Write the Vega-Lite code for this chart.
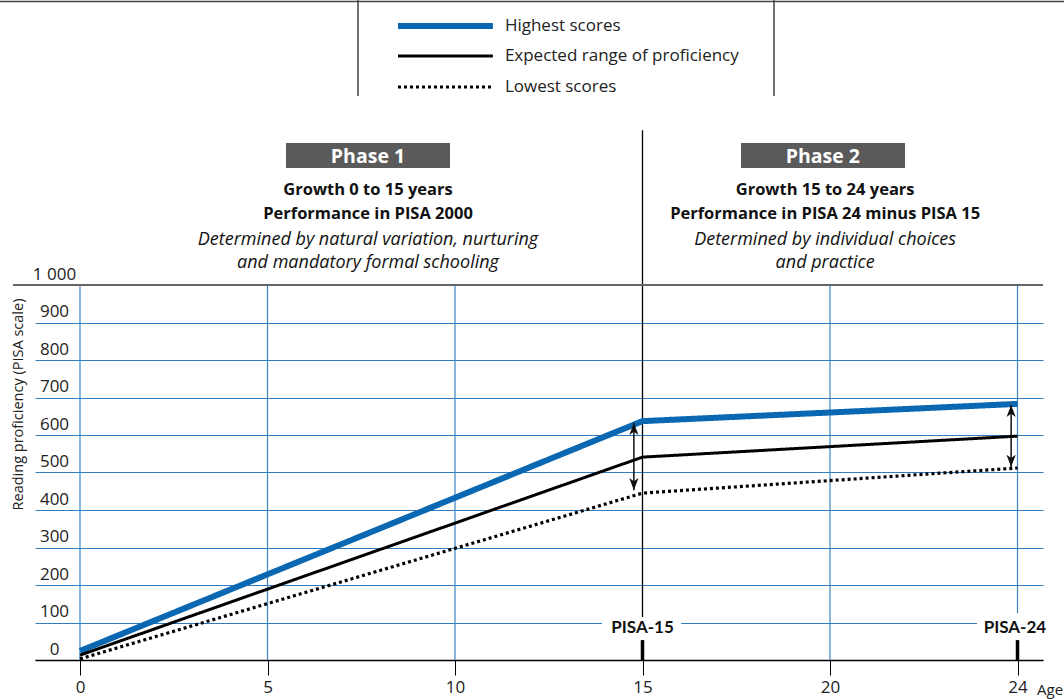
{
  "$schema": "https://vega.github.io/schema/vega-lite/v6.json",
  "width": 1008,
  "height": 660,
  "autosize": {"type": "none"},
  "padding": {"left": 35, "top": 0, "right": 21, "bottom": 39},
  "background": "white",
  "config": {"view": {"stroke": null}, "font": "Lato", "text": {"font": "Lato"}},
  "datasets": {
    "series": [
      {"age": 0, "score": 24, "series": "Highest scores"},
      {"age": 15, "score": 637, "series": "Highest scores"},
      {"age": 25, "score": 683, "series": "Highest scores"},
      {"age": 0, "score": 13, "series": "Expected range of proficiency"},
      {"age": 15, "score": 541, "series": "Expected range of proficiency"},
      {"age": 25, "score": 597, "series": "Expected range of proficiency"},
      {"age": 0, "score": 3, "series": "Lowest scores"},
      {"age": 15, "score": 445, "series": "Lowest scores"},
      {"age": 25, "score": 512, "series": "Lowest scores"}
    ],
    "legendItems": [
      {"series": "Highest scores", "age": 8.48, "age2": 11.01, "score": 1690.7},
      {"series": "Expected range of proficiency", "age": 8.48, "age2": 11.01, "score": 1610.7},
      {"series": "Lowest scores", "age": 8.48, "age2": 11.01, "score": 1528}
    ],
    "frame": [
      {"age": -2.2, "age2": 26.3, "score": 1756, "score2": 1756},
      {"age": 7.413, "age2": 7.413, "score": 1504, "score2": 1760},
      {"age": 18.507, "age2": 18.507, "score": 1504, "score2": 1760}
    ],
    "vgrid": [
      {"age": 0, "score": 0, "score2": 1000},
      {"age": 5, "score": 0, "score2": 1000},
      {"age": 10, "score": 0, "score2": 1000},
      {"age": 20, "score": 0, "score2": 1000},
      {"age": 25, "score": 0, "score2": 1000}
    ],
    "divider": [{"age": 15, "score": 0, "score2": 1413}],
    "topline": [{"age": -1.787, "age2": 25.68, "score": 1000}],
    "thick": [
      {"age": 15, "score": 0, "score2": 53},
      {"age": 25, "score": 0, "score2": 53}
    ],
    "arrows": [
      {"age": 14.77, "score": 632, "score2": 453},
      {"age": 24.83, "score": 680, "score2": 515}
    ],
    "pisa": [
      {"label": "PISA-15", "age": 15, "score": 85, "bx1": 13.92, "bx2": 16.03, "by1": 53, "by2": 115},
      {"label": "PISA-24", "age": 24.93, "score": 85, "bx1": 23.92, "bx2": 25.7, "by1": 53, "by2": 125}
    ],
    "phases": [
      {"phase": "Phase 1", "age": 7.68, "bx1": 5.493, "bx2": 9.867, "by1": 1312, "by2": 1378.7, "score": 1342},
      {"phase": "Phase 2", "age": 19.81, "bx1": 17.627, "bx2": 22.0, "by1": 1312, "by2": 1378.7, "score": 1342}
    ],
    "notes": [
      {"age": 7.68, "score": 1254, "kind": "bold", "text": "Growth 0 to 15 years"},
      {"age": 7.68, "score": 1190, "kind": "bold", "text": "Performance in PISA 2000"},
      {"age": 7.68, "score": 1120, "kind": "italic", "text": "Determined by natural variation, nurturing"},
      {"age": 7.68, "score": 1058, "kind": "italic", "text": "and mandatory formal schooling"},
      {"age": 19.87, "score": 1254, "kind": "bold", "text": "Growth 15 to 24 years"},
      {"age": 19.87, "score": 1190, "kind": "bold", "text": "Performance in PISA 24 minus PISA 15"},
      {"age": 19.87, "score": 1120, "kind": "italic", "text": "Determined by individual choices"},
      {"age": 19.87, "score": 1058, "kind": "italic", "text": "and practice"}
    ],
    "agelabel": [{"age": 25.87, "score": -80, "text": "Age"}]
  },
  "layer": [
    {
      "data": {"name": "vgrid"},
      "mark": {"type": "rule", "color": "#3b84c6", "strokeWidth": 1.2},
      "encoding": {
        "x": {
          "field": "age", "type": "quantitative",
          "scale": {"domain": [-1.2, 25.68], "nice": false, "zero": false},
          "axis": {
            "values": [0, 5, 10, 15, 20, 25],
            "labelExpr": "datum.value == 25 ? '24' : datum.label",
            "grid": false, "title": null,
            "domainColor": "#000", "domainWidth": 1.5,
            "tickColor": "#000", "tickSize": 15, "tickWidth": 1,
            "labelFontSize": 17, "labelColor": "#222", "labelPadding": 4, "labelFont": "Open Sans"
          }
        },
        "y": {
          "field": "score", "type": "quantitative",
          "scale": {"domain": [0, 1760], "nice": false, "zero": false},
          "axis": {
            "values": [0, 100, 200, 300, 400, 500, 600, 700, 800, 900, 1000],
            "labelExpr": "datum.value == 1000 ? '1 000' : datum.label",
            "grid": true,
            "gridColor": {"condition": {"test": "datum.value == 1000", "value": "transparent"}, "value": "#2f7cc0"},
            "gridWidth": 1.2,
            "domain": false, "ticks": false, "tickSize": 0,
            "labelAlign": "center", "labelBaseline": "middle", "labelPadding": -19, "labelOffset": -11,
            "labelFontSize": 17, "labelColor": "#222", "labelFont": "Open Sans",
            "title": "Reading proficiency (PISA scale)",
            "titleX": -17, "titleY": 404, "titleAngle": 270, "titleAlign": "center", "titleBaseline": "middle",
            "titleFontSize": 14.5, "titleFontWeight": "normal", "titleColor": "#222", "titleFont": "Open Sans"
          }
        },
        "y2": {"field": "score2"}
      }
    },
    {
      "data": {"name": "divider"},
      "mark": {"type": "rule", "color": "#000", "strokeWidth": 1.3},
      "encoding": {
        "x": {"field": "age", "type": "quantitative"},
        "y": {"field": "score", "type": "quantitative"},
        "y2": {"field": "score2"}
      }
    },
    {
      "data": {"name": "topline"},
      "mark": {"type": "rule", "color": "#666", "strokeWidth": 2},
      "encoding": {
        "x": {"field": "age", "type": "quantitative"},
        "x2": {"field": "age2"},
        "y": {"field": "score", "type": "quantitative"}
      }
    },
    {
      "data": {"name": "pisa"},
      "mark": {"type": "rect", "color": "white"},
      "encoding": {
        "x": {"field": "bx1", "type": "quantitative"},
        "x2": {"field": "bx2"},
        "y": {"field": "by1", "type": "quantitative"},
        "y2": {"field": "by2"}
      }
    },
    {
      "data": {"name": "pisa"},
      "mark": {"type": "text", "fontSize": 17, "fontWeight": "bold", "color": "#111", "align": "center", "baseline": "middle", "font": "Lato"},
      "encoding": {
        "x": {"field": "age", "type": "quantitative"},
        "y": {"field": "score", "type": "quantitative"},
        "text": {"field": "label"}
      }
    },
    {
      "data": {"name": "thick"},
      "mark": {"type": "rule", "color": "#000", "strokeWidth": 3.5},
      "encoding": {
        "x": {"field": "age", "type": "quantitative"},
        "y": {"field": "score", "type": "quantitative"},
        "y2": {"field": "score2"}
      }
    },
    {
      "data": {"name": "series"},
      "mark": {"type": "line", "strokeCap": "butt"},
      "encoding": {
        "x": {"field": "age", "type": "quantitative"},
        "y": {"field": "score", "type": "quantitative"},
        "detail": {"field": "series"},
        "color": {"field": "series", "type": "nominal", "legend": null,
          "scale": {"domain": ["Highest scores", "Expected range of proficiency", "Lowest scores"], "range": ["#0a67b1", "#000000", "#000000"]}},
        "strokeWidth": {"field": "series", "type": "nominal", "legend": null,
          "scale": {"type": "ordinal", "domain": ["Highest scores", "Expected range of proficiency", "Lowest scores"], "range": [6, 3, 3.2]}},
        "strokeDash": {"field": "series", "type": "nominal", "legend": null,
          "scale": {"domain": ["Highest scores", "Expected range of proficiency", "Lowest scores"], "range": [[1, 0], [1, 0], [3, 3]]}}
      }
    },
    {
      "data": {"name": "legendItems"},
      "mark": {"type": "rule", "strokeCap": "butt"},
      "encoding": {
        "x": {"field": "age", "type": "quantitative"},
        "x2": {"field": "age2"},
        "y": {"field": "score", "type": "quantitative"},
        "color": {"field": "series", "type": "nominal", "legend": null,
          "scale": {"domain": ["Highest scores", "Expected range of proficiency", "Lowest scores"], "range": ["#0a67b1", "#000000", "#000000"]}},
        "strokeWidth": {"field": "series", "type": "nominal", "legend": null,
          "scale": {"type": "ordinal", "domain": ["Highest scores", "Expected range of proficiency", "Lowest scores"], "range": [6, 3, 3.2]}},
        "strokeDash": {"field": "series", "type": "nominal", "legend": null,
          "scale": {"domain": ["Highest scores", "Expected range of proficiency", "Lowest scores"], "range": [[1, 0], [1, 0], [3, 3]]}}
      }
    },
    {
      "data": {"name": "legendItems"},
      "mark": {"type": "text", "fontSize": 17, "color": "#222", "align": "left", "baseline": "middle", "dx": 12, "font": "Open Sans"},
      "encoding": {
        "x": {"field": "age2", "type": "quantitative"},
        "y": {"field": "score", "type": "quantitative"},
        "text": {"field": "series"}
      }
    },
    {
      "data": {"name": "arrows"},
      "mark": {"type": "rule", "color": "#111", "strokeWidth": 1.5},
      "encoding": {
        "x": {"field": "age", "type": "quantitative"},
        "y": {"field": "score", "type": "quantitative"},
        "y2": {"field": "score2"}
      }
    },
    {
      "data": {"name": "arrows"},
      "mark": {"type": "point", "filled": true, "color": "#111", "opacity": 1, "size": 150, "yOffset": 6,
        "shape": "M0,-1L0.75,1L0,0.45L-0.75,1Z"},
      "encoding": {
        "x": {"field": "age", "type": "quantitative"},
        "y": {"field": "score", "type": "quantitative"}
      }
    },
    {
      "data": {"name": "arrows"},
      "mark": {"type": "point", "filled": true, "color": "#111", "opacity": 1, "size": 150, "yOffset": -6,
        "shape": "M0,1L0.75,-1L0,-0.45L-0.75,-1Z"},
      "encoding": {
        "x": {"field": "age", "type": "quantitative"},
        "y": {"field": "score2", "type": "quantitative"}
      }
    },
    {
      "data": {"name": "frame"},
      "mark": {"type": "rule", "color": "#444", "strokeWidth": 1.5},
      "encoding": {
        "x": {"field": "age", "type": "quantitative"},
        "x2": {"field": "age2"},
        "y": {"field": "score", "type": "quantitative"},
        "y2": {"field": "score2"}
      }
    },
    {
      "data": {"name": "phases"},
      "mark": {"type": "rect", "color": "#5a5a5a"},
      "encoding": {
        "x": {"field": "bx1", "type": "quantitative"},
        "x2": {"field": "bx2"},
        "y": {"field": "by1", "type": "quantitative"},
        "y2": {"field": "by2"}
      }
    },
    {
      "data": {"name": "phases"},
      "mark": {"type": "text", "fontSize": 19.5, "fontWeight": "bold", "color": "white", "align": "center", "baseline": "middle", "font": "Open Sans"},
      "encoding": {
        "x": {"field": "age", "type": "quantitative"},
        "y": {"field": "score", "type": "quantitative"},
        "text": {"field": "phase"}
      }
    },
    {
      "data": {"name": "notes"},
      "transform": [{"filter": "datum.kind == 'bold'"}],
      "mark": {"type": "text", "fontSize": 16.5, "fontWeight": "bold", "color": "#111", "align": "center", "baseline": "middle", "font": "Open Sans"},
      "encoding": {
        "x": {"field": "age", "type": "quantitative"},
        "y": {"field": "score", "type": "quantitative"},
        "text": {"field": "text"}
      }
    },
    {
      "data": {"name": "notes"},
      "transform": [{"filter": "datum.kind == 'italic'"}],
      "mark": {"type": "text", "fontSize": 18, "fontStyle": "italic", "color": "#111", "align": "center", "baseline": "middle", "font": "Open Sans"},
      "encoding": {
        "x": {"field": "age", "type": "quantitative"},
        "y": {"field": "score", "type": "quantitative"},
        "text": {"field": "text"}
      }
    },
    {
      "data": {"name": "agelabel"},
      "mark": {"type": "text", "fontSize": 15, "color": "#222", "align": "center", "baseline": "middle", "font": "Open Sans"},
      "encoding": {
        "x": {"field": "age", "type": "quantitative"},
        "y": {"field": "score", "type": "quantitative"},
        "text": {"field": "text"}
      }
    }
  ]
}
